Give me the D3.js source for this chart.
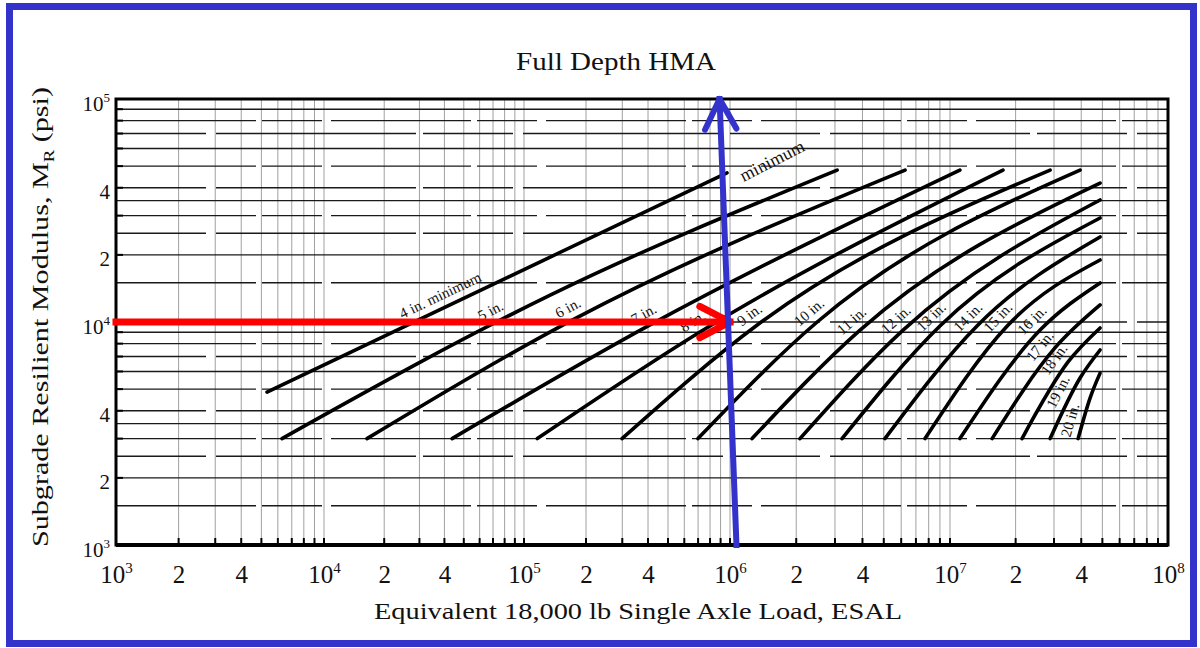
<!DOCTYPE html>
<html><head><meta charset="utf-8">
<script src="https://cdn.jsdelivr.net/npm/d3@7"></script>
<style>
html,body{margin:0;padding:0;background:#fff;}
svg{display:block;}
text{font-family:"Liberation Serif","Times New Roman",serif;fill:#111;}
</style></head><body>
<svg id="chart" width="1200" height="648"></svg>
<script>
// ---------------- data ----------------
const chartTitle = "Full Depth HMA";
const xTitle = "Equivalent 18,000 lb Single Axle Load, ESAL";
const yTitleParts = ["Subgrade Resilient Modulus, M", "R", " (psi)"];

const xDecades = [1e3, 1e4, 1e5, 1e6, 1e7, 1e8];
const xTickValues = [1e3, 2e3, 4e3, 1e4, 2e4, 4e4, 1e5, 2e5, 4e5, 1e6, 2e6, 4e6, 1e7, 2e7, 4e7, 1e8];
const yTickValues = [1e3, 2e3, 4e3, 1e4, 2e4, 4e4, 1e5];
const gridMultipliers = [1, 2, 3, 4, 5, 6, 7, 8, 9];
const hGridMR = [1500, 2000, 2500, 3000, 3500, 4000, 5000, 6000, 7000, 8000, 9000, 10000,
                 15000, 20000, 25000, 30000, 35000, 40000, 50000, 60000, 70000, 80000, 90000];

const thicknessLabels = ["4 in. minimum", "5 in.", "6 in.", "7 in.", "8 in.", "9 in.", "10 in.",
  "11 in.", "12 in.", "13 in.", "14 in.", "15 in.", "16 in.", "17 in.", "18 in.", "19 in.", "20 in."];
const esalPoints = [
  [5320, 1.34e5, 9.67e5],
  [6280, 1.34e5, 3.07e6],
  [16400, 1.75e5, 6.25e6],
  [43700, 4.09e5, 1.11e7],
  [1.16e5, 7.15e5, 1.75e7],
  [2.99e5, 1.33e6, 2.88e7],
  [6.99e5, 2.49e6, 3.95e7],
  [1.26e6, 3.90e6, 4.88e7],
  [2.08e6, 6.12e6, 4.88e7],
  [3.23e6, 9.0e6, 4.88e7],
  [5.06e6, 1.33e7, 4.88e7],
  [7.70e6, 1.83e7, 4.88e7],
  [1.11e7, 2.59e7, 4.88e7],
  [1.56e7, 3.03e7, 4.88e7],
  [2.14e7, 3.48e7, 4.88e7],
  [2.88e7, 3.95e7, 4.88e7],
  [3.87e7, 4.39e7, 4.88e7]
];
const mrPoints = [
  [4850, 19560, 46600],
  [3000, 13200, 48000],
  [3000, 10300, 48000],
  [3000, 9700, 48000],
  [3000, 9020, 48000],
  [3000, 9700, 48000],
  [3000, 10000, 48000],
  [3000, 9200, 42000],
  [3000, 9200, 35250],
  [3000, 9600, 29270],
  [3000, 9600, 24060],
  [3000, 9600, 18970],
  [3000, 9200, 14960],
  [3000, 7650, 11920],
  [3000, 6620, 9400],
  [3000, 5610, 7490],
  [3000, 4560, 5900]
];
const labelMR = [11700, 10000, 10300, 9700, 9000, 9700, 10000, 9200, 9300, 9600,
                 9600, 9600, 9300, 7200, 6300, 4600, 3500];
const noteText = ["minimum"];
const noteESAL = [1.55e6];
const noteMR = [53000];

const redArrowESAL = [1e3, 1e6];
const redArrowMR = [1e4, 1e4];
const blueArrowESAL = [1.07e6, 8.9e5];
const blueArrowMR = [1e3, 1e5];

// ---------------- drawing ----------------
const svg = d3.select("#chart");
const x = d3.scaleLog().domain(xDecades).range([116, 324, 524, 730, 950, 1168]);
const y = d3.scaleLog().domain([1e3, 1e5]).range([545, 99]);
const expOf = d => Math.floor(Math.log10(d) + 1e-9);

const grid = svg.append("g");
const vVals = [];
xDecades.slice(0, -1).forEach(d => gridMultipliers.forEach(m => { if (m > 1 || d > 1e3) vVals.push(d * m); }));
grid.selectAll(".vg").data(vVals).join("line")
  .attr("x1", d => x(d)).attr("x2", d => x(d))
  .attr("y1", y(1e5)).attr("y2", y(1e3))
  .attr("stroke", "#a0a0a0").attr("stroke-width", 1);
grid.selectAll(".hg").data(hGridMR).join("line")
  .attr("x1", x(1e3)).attr("x2", x(1e8))
  .attr("y1", d => y(d)).attr("y2", d => y(d))
  .attr("stroke", "#1a1a1a").attr("stroke-width", 1.4)
  .attr("stroke-dasharray", (d, i) => i % 3 === 0 ? "140,6,60,9" : (i % 3 === 1 ? "none" : "90,10,200,7"));

// minor ticks on axes
const yMinor = [];
[1e3, 1e4].forEach(d => gridMultipliers.forEach(m => yMinor.push(d * m)));
svg.append("g").selectAll("line").data(yMinor).join("line")
  .attr("x1", x(1e3)).attr("x2", x(1e3) + 7)
  .attr("y1", d => y(d)).attr("y2", d => y(d))
  .attr("stroke", "#000").attr("stroke-width", 2);
svg.append("g").selectAll("line").data(vVals).join("line")
  .attr("x1", d => x(d)).attr("x2", d => x(d))
  .attr("y1", y(1e3)).attr("y2", y(1e3) - 7)
  .attr("stroke", "#000").attr("stroke-width", 2);

// frame
svg.append("rect")
  .attr("x", x(1e3)).attr("y", y(1e5))
  .attr("width", x(1e8) - x(1e3)).attr("height", y(1e3) - y(1e5))
  .attr("fill", "none").attr("stroke", "#000").attr("stroke-width", 3);
svg.append("line").attr("x1", x(1e3)).attr("x2", x(1e8)).attr("y1", y(1e3)).attr("y2", y(1e3))
  .attr("stroke", "#000").attr("stroke-width", 4);

// axes
const gx = svg.append("g").attr("transform", `translate(0,${y(1e3)})`)
  .call(d3.axisBottom(x).tickValues(xTickValues).tickSize(0).tickFormat(() => ""));
gx.select(".domain").remove();
gx.selectAll(".tick").each(function (d) {
  const e = expOf(d);
  const lead = Math.round(d / Math.pow(10, e));
  const t = d3.select(this).append("text").attr("y", 38).attr("text-anchor", "middle")
    .style("font-size", "25px").style("fill", "#111");
  if (lead === 1) {
    t.append("tspan").text("10");
    t.append("tspan").attr("dy", -10).style("font-size", "15px").text(e);
  } else {
    t.text(lead);
  }
});
const gy = svg.append("g").attr("transform", `translate(${x(1e3)},0)`)
  .call(d3.axisLeft(y).tickValues(yTickValues).tickSize(0).tickFormat(() => ""));
gy.select(".domain").remove();
gy.selectAll(".tick").each(function (d) {
  const e = expOf(d);
  const lead = Math.round(d / Math.pow(10, e));
  const t = d3.select(this).append("text").attr("x", -6).attr("y", 11).attr("text-anchor", "end")
    .style("font-size", "21px").style("fill", "#111");
  if (lead === 1) {
    t.append("tspan").text("10");
    t.append("tspan").attr("dy", -9).style("font-size", "13px").text(e);
  } else {
    t.text(lead);
  }
});

// thickness curves
const line = d3.line().x(p => x(p[0])).y(p => y(p[1])).curve(d3.curveMonotoneX);
const curveG = svg.append("g");
const curveLabels = svg.append("g");
thicknessLabels.forEach((lab, i) => {
  const pts = esalPoints[i].map((e, j) => [e, mrPoints[i][j]]);
  const path = curveG.append("path").attr("d", line(pts))
    .attr("fill", "none").attr("stroke", "#000").attr("stroke-width", 3.6)
    .attr("stroke-linecap", "round");
  const node = path.node();
  const L = node.getTotalLength();
  const ty = y(labelMR[i]);
  let best = 0, bd = 1e9;
  for (let l = 0; l <= L; l += 0.5) {
    const p = node.getPointAtLength(l);
    const dd = Math.abs(p.y - ty);
    if (dd < bd) { bd = dd; best = l; }
  }
  const p = node.getPointAtLength(best);
  const p0 = node.getPointAtLength(Math.max(0, best - 4));
  const p1 = node.getPointAtLength(Math.min(L, best + 4));
  const dx = p1.x - p0.x, dy = p1.y - p0.y, n = Math.hypot(dx, dy) || 1;
  const off = 13;
  const cx = p.x + dy / n * off, cy = p.y - dx / n * off;
  const ang = Math.atan2(dy, dx) * 180 / Math.PI;
  curveLabels.append("text").attr("transform", `translate(${cx},${cy}) rotate(${ang})`)
    .attr("text-anchor", "middle").attr("dy", "0.35em")
    .style("font-size", "15px").style("fill", "#111").text(lab);
});
noteText.forEach((t, i) => {
  svg.append("text").attr("transform", `translate(${x(noteESAL[i])},${y(noteMR[i])}) rotate(-27)`)
    .attr("text-anchor", "middle").attr("dy", "0.35em")
    .style("font-size", "18px").style("fill", "#111").text(t);
});

// arrows
function arrow(esal, mr, color, width) {
  const g = svg.append("g");
  const xa = x(esal[0]), ya = y(mr[0]), xb = x(esal[1]), yb = y(mr[1]);
  g.append("line").attr("x1", xa).attr("y1", ya).attr("x2", xb).attr("y2", yb)
    .attr("stroke", color).attr("stroke-width", width).attr("stroke-linecap", "square");
  const a = Math.atan2(yb - ya, xb - xa), len = 34, spread = 0.48;
  [-1, 1].forEach(s => {
    g.append("line").attr("x1", xb).attr("y1", yb)
      .attr("x2", xb - len * Math.cos(a + s * spread)).attr("y2", yb - len * Math.sin(a + s * spread))
      .attr("stroke", color).attr("stroke-width", width).attr("stroke-linecap", "round");
  });
}
arrow(redArrowESAL, redArrowMR, "#ff0000", 7);
arrow(blueArrowESAL, blueArrowMR, "#3333cc", 6);

// titles
svg.append("text").attr("x", 616).attr("y", 70).attr("text-anchor", "middle")
  .attr("textLength", 200).attr("lengthAdjust", "spacingAndGlyphs")
  .style("font-size", "26px").text(chartTitle);
svg.append("text").attr("x", 638).attr("y", 619).attr("text-anchor", "middle")
  .attr("textLength", 528).attr("lengthAdjust", "spacingAndGlyphs")
  .style("font-size", "23px").text(xTitle);
const yt = svg.append("text").attr("transform", "translate(48,317) rotate(-90)")
  .attr("text-anchor", "middle").attr("textLength", 460).attr("lengthAdjust", "spacingAndGlyphs")
  .style("font-size", "24px");
yt.append("tspan").text(yTitleParts[0]);
yt.append("tspan").attr("dy", 6).style("font-size", "15px").text(yTitleParts[1]);
yt.append("tspan").attr("dy", -6).text(yTitleParts[2]);

// outer border
svg.append("rect").attr("x", 9.5).attr("y", 6.5).attr("width", 1184).attr("height", 637)
  .attr("fill", "none").attr("stroke", "#3333cc").attr("stroke-width", 7);
</script>
</body></html>
